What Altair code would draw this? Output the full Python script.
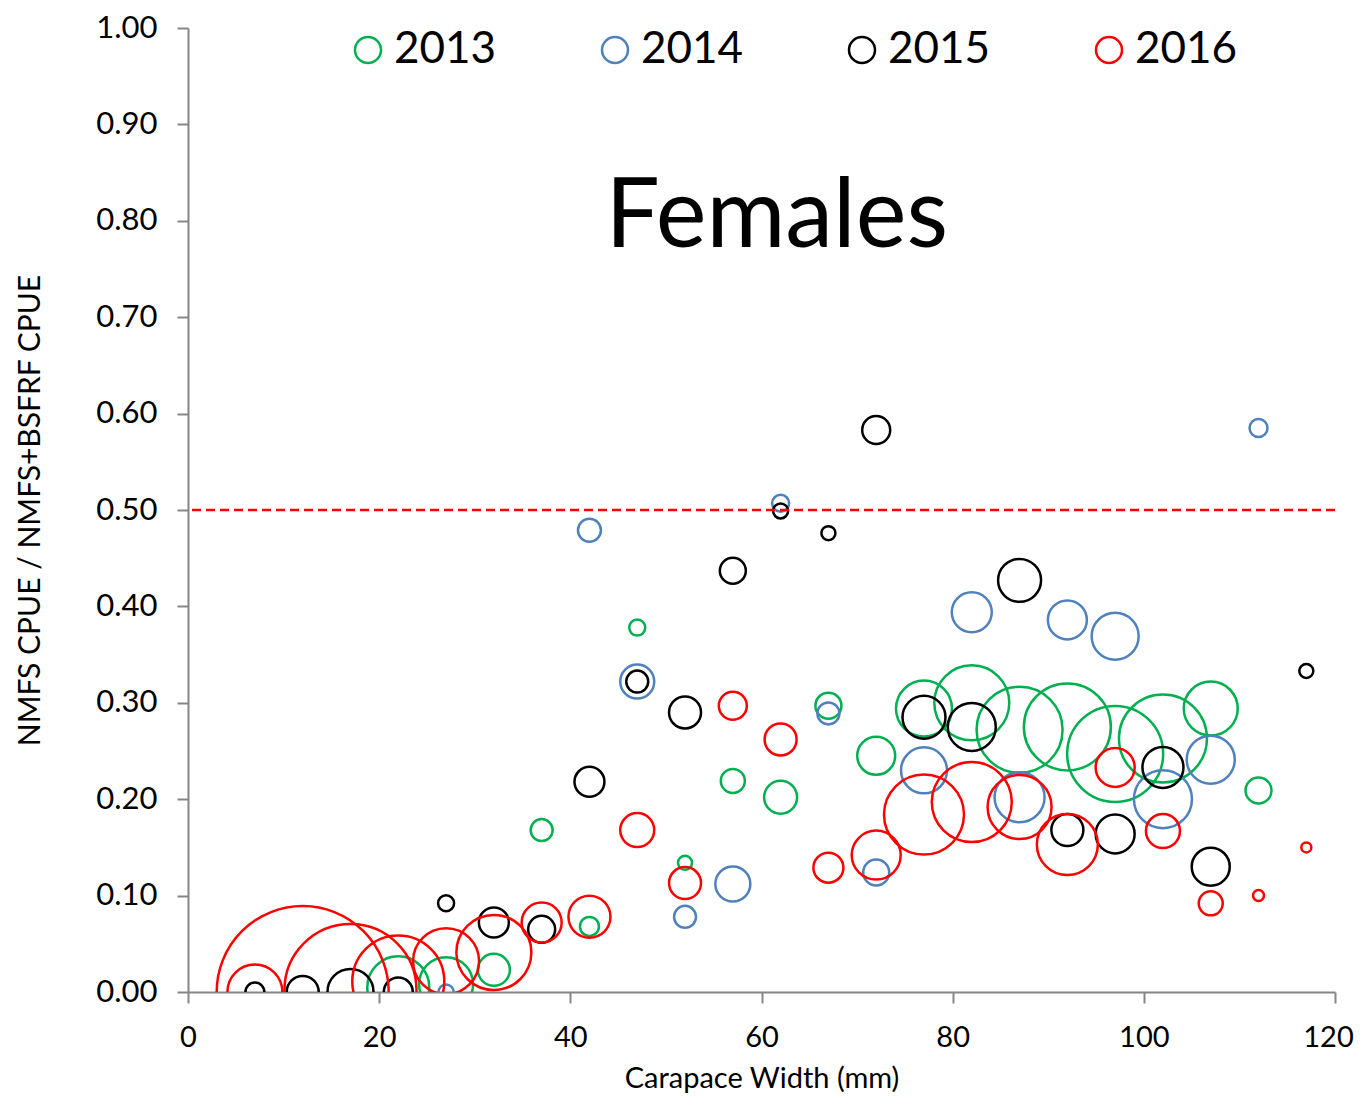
import altair as alt
import pandas as pd

years = ["2013", "2014", "2015", "2016"]
colors = ["#00B050", "#4F81BD", "#000000", "#FF0000"]

# Carapace width bin (mm), CPUE ratio, relative bubble size
w2013 = [22, 27, 32, 37, 42, 47, 52, 57, 62, 67, 72, 77, 82, 87, 92, 97, 102, 107, 112]
y2013 = [0.005, 0.008, 0.023, 0.168, 0.068, 0.378, 0.134, 0.219, 0.202, 0.297, 0.245, 0.294, 0.300, 0.272, 0.275, 0.247, 0.263, 0.294, 0.209]
n2013 = [961, 729, 256, 121, 90, 64, 49, 144, 272, 169, 361, 784, 1406, 1849, 1892, 2304, 1936, 729, 169]

w2014 = [27, 42, 47, 52, 57, 62, 67, 72, 77, 82, 87, 92, 97, 102, 107, 112]
y2014 = [0.000, 0.479, 0.322, 0.078, 0.112, 0.507, 0.289, 0.124, 0.230, 0.394, 0.202, 0.386, 0.369, 0.200, 0.241, 0.585]
n2014 = [56, 132, 289, 121, 306, 72, 121, 169, 529, 400, 625, 380, 552, 841, 576, 81]

w2015 = [7, 12, 17, 22, 27, 32, 37, 42, 47, 52, 57, 62, 67, 72, 77, 82, 87, 92, 97, 102, 107, 117]
y2015 = [0.000, 0.000, 0.000, 0.000, 0.092, 0.072, 0.065, 0.218, 0.322, 0.290, 0.437, 0.499, 0.476, 0.583, 0.285, 0.275, 0.427, 0.168, 0.164, 0.233, 0.130, 0.333]
n2015 = [90, 256, 529, 210, 64, 225, 182, 225, 121, 256, 169, 56, 49, 196, 462, 576, 462, 256, 380, 420, 361, 49]

w2016 = [7, 12, 17, 22, 27, 32, 37, 42, 47, 52, 57, 62, 67, 72, 77, 82, 87, 92, 97, 102, 107, 112, 117]
y2016 = [0.000, 0.000, 0.002, 0.011, 0.032, 0.041, 0.072, 0.078, 0.168, 0.113, 0.297, 0.262, 0.129, 0.142, 0.184, 0.197, 0.192, 0.153, 0.233, 0.167, 0.092, 0.100, 0.150]
n2016 = [756, 7396, 4356, 2116, 1089, 1406, 400, 441, 289, 256, 196, 256, 225, 600, 1600, 1600, 1024, 930, 380, 289, 144, 30, 25]

threshold = [0.5]
x_ticks = [0, 20, 40, 60, 80, 100, 120]
y_ticks = [0.0, 0.1, 0.2, 0.3, 0.4, 0.5, 0.6, 0.7, 0.8, 0.9, 1.0]

rows = []
for yr, ws, ys, ns in [("2013", w2013, y2013, n2013), ("2014", w2014, y2014, n2014),
                       ("2015", w2015, y2015, n2015), ("2016", w2016, y2016, n2016)]:
    for w, r, n in zip(ws, ys, ns):
        rows.append({"year": yr, "width": w, "ratio": r, "n": n})
df = pd.DataFrame(rows)

FONT = "Lato"
max_n = max(n2016)

points = alt.Chart(df).mark_point(
    shape="circle", filled=False, strokeWidth=2.5, opacity=1, clip=True
).encode(
    x=alt.X("width:Q",
            scale=alt.Scale(domain=[0, 120], nice=False, zero=True),
            axis=alt.Axis(values=x_ticks, title="Carapace Width (mm)", format="d",
                          labelFlush=False, labelOverlap=False, labelPadding=20,
                          labelOffset={"condition": {"test": "datum.value == 120", "value": -7}, "value": 0},
                          labelFontSize=29, titlePadding=12, titleFontSize=29)),
    y=alt.Y("ratio:Q",
            scale=alt.Scale(domain=[0, 1], nice=False),
            axis=alt.Axis(values=y_ticks, format=".2f", title="NMFS CPUE / NMFS+BSFRF CPUE",
                          labelFlush=False, labelOverlap=False, labelPadding=20,
                          titlePadding=50)),
    size=alt.Size("n:Q", scale=alt.Scale(domain=[0, max_n], range=[0, 4 * max_n]), legend=None),
    color=alt.Color("year:N", scale=alt.Scale(domain=years, range=colors),
                    legend=alt.Legend(title=None, orient="none", legendX=158, legendY=0,
                                      direction="horizontal", columnPadding=96,
                                      labelFontSize=44, labelFont=FONT, labelColor="black",
                                      labelOffset=4, symbolType="circle", symbolSize=676,
                                      symbolStrokeWidth=2.5, symbolFillColor="transparent")),
    order=alt.Order("year:N"),
)

rule = alt.Chart(pd.DataFrame({"t": threshold})).mark_rule(
    color="#FF0000", strokeDash=[9, 5], strokeWidth=2.5
).encode(y="t:Q")

label = alt.Chart(pd.DataFrame({"t": threshold})).mark_text(
    fontSize=96, font=FONT, color="black", baseline="middle", align="center"
).encode(x=alt.datum(61.6), y=alt.datum(0.803), text=alt.value("Females"))

chart = alt.layer(points, rule, label).properties(
    width=1147, height=964,
    autosize=alt.AutoSizeParams(type="none"),
    padding={"left": 180, "top": 20, "right": 23, "bottom": 104},
).configure_view(stroke=None).configure_axis(
    domainColor="#868686", domainWidth=2, tickColor="#868686", tickWidth=2, tickSize=11,
    grid=False, labelColor="black", labelFont=FONT, labelFontSize=31,
    titleFont=FONT, titleFontSize=30, titleFontWeight="normal", titleColor="black",
)

chart.save("out.html", embed_options={"renderer": "svg", "actions": False})
